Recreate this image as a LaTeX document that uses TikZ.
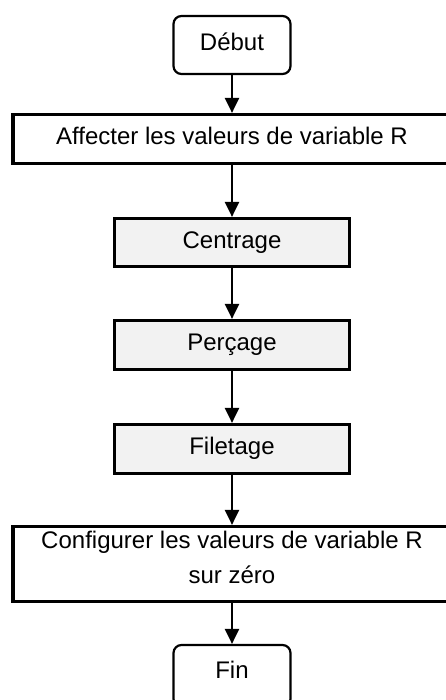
\documentclass[tikz,border=0pt]{standalone}
\usepackage{fontspec}
\setmainfont{Liberation Sans}
\usetikzlibrary{arrows.meta}
\definecolor{stepgray}{HTML}{F2F2F2}
\begin{document}
\begin{tikzpicture}[x=1pt,y=-1pt,
  every node/.style={font=\fontsize{24pt}{35pt}\selectfont, inner sep=0pt},
  oneline/.style={text height=17pt, text depth=5.2pt},
  terminal/.style={oneline, draw, line width=2.2pt, rounded corners=8pt,
    minimum width=117pt, minimum height=58pt, fill=white},
  widebox/.style={draw, line width=3.2pt, minimum width=438pt, fill=white},
  stepbox/.style={oneline, draw, line width=3.2pt, fill=stepgray,
    minimum width=235pt, minimum height=48pt},
  flow/.style={line width=2.2pt, -{Triangle[length=15pt,width=14pt]}}
]
\useasboundingbox (0,0) rectangle (446,700);

% start / end terminals
\node[terminal] (debut) at (232,45) {Début};
\node[terminal, text depth=13pt, minimum height=62pt] (fin) at (232,676) {Fin};

% initialisation and reset of the R variables
\node[widebox, oneline, minimum height=49pt] (affecter) at (232,139)
  {Affecter les valeurs de variable R};
\node[widebox, minimum height=75pt,
  label={[align=center, yshift=7pt, inner sep=0pt]center:Configurer les valeurs de variable R\\sur zéro}]
  (config) at (232,564) {};

% machining operations
\node[stepbox] (centrage) at (232,242.5) {Centrage};
\node[stepbox, minimum height=49pt] (percage) at (232,345) {Perçage};
\node[stepbox, minimum height=49pt] (filetage) at (232,449) {Filetage};

% sequence arrows
\draw[flow] (debut) -- (affecter);
\draw[flow] (affecter) -- (centrage);
\draw[flow] (centrage) -- (percage);
\draw[flow] (percage) -- (filetage);
\draw[flow] (filetage) -- (config);
\draw[flow] (config) -- (fin);
\end{tikzpicture}
\end{document}
